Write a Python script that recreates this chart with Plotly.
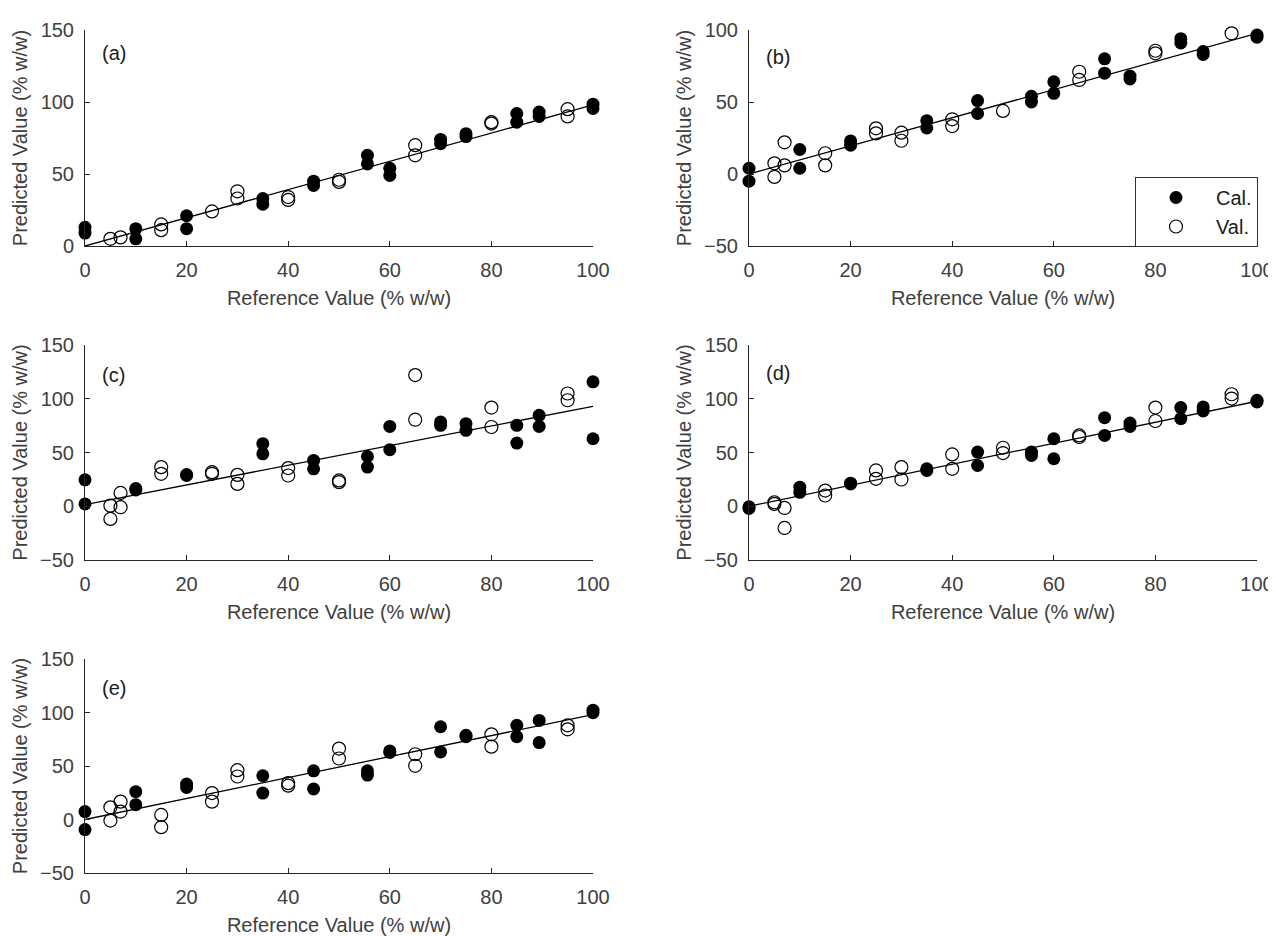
import plotly.graph_objects as go

# ---------------- data ----------------
cal_x = [0, 0, 10, 10, 20, 20, 35, 35, 45, 45, 55.6, 55.6, 60, 60, 70, 70, 75, 75, 85, 85, 89.4, 89.4, 100, 100]
val_x_a = [5, 7, 15, 15, 25, 30, 30, 40, 40, 50, 50, 65, 65, 80, 80, 95, 95]
val_x_b = [5, 5, 7, 7, 15, 15, 25, 25, 30, 30, 40, 40, 50, 65, 65, 80, 80, 95]
val_x = [5, 5, 7, 7, 15, 15, 25, 25, 30, 30, 40, 40, 50, 50, 65, 65, 80, 80, 95, 95]

a_cal_y = [13, 9, 12, 5, 21, 12, 33, 29, 45, 42, 63, 57, 54, 49, 74, 71, 78, 76, 92, 86, 93, 90, 98.5, 95.5]
a_val_y = [5, 6, 15, 11, 24, 38, 33, 34, 32, 46, 44.5, 70, 63, 86, 85, 95, 90]

b_cal_y = [4, -5, 17, 4, 23, 20, 37, 32, 51, 42, 54, 50, 64, 56, 80, 70, 68, 66, 94, 91, 85, 83, 96.5, 95]
b_val_y = [7.4, -2, 22, 6, 14.4, 6, 31.7, 28.2, 28.7, 23.1, 38, 33.3, 43.8, 71, 65.3, 85.6, 83.8, 97.7]

c_cal_y = [24.6, 2.2, 15.2, 16.5, 29.5, 28.6, 58.2, 48.8, 42.6, 34.8, 46.3, 36.4, 74.3, 52.6, 78.4, 75.3, 76.8, 70.6, 75.3, 58.8, 84.6, 74.3, 115.7, 62.8]
c_val_y = [0.6, -11.8, 12.4, -0.9, 36.4, 30.2, 31.7, 30.2, 29.2, 20.8, 35.5, 28.6, 24, 22.4, 122, 80.5, 91.8, 73.7, 104.9, 98.6]

d_cal_y = [-0.5, -2, 17.7, 13, 21.5, 20.8, 34.8, 33.3, 50.4, 37.9, 50.4, 47.3, 62.8, 44.2, 82.4, 65.9, 77.4, 74.3, 91.8, 81.5, 92.4, 88.6, 98.6, 97]
d_val_y = [3.7, 2.2, -1.6, -20.2, 14.6, 10, 33.3, 25.5, 36.4, 24.9, 48.2, 34.8, 54.4, 49.5, 65.9, 64.4, 91.8, 79.3, 104.2, 100.2]

e_cal_y = [7.4, -9.4, 26, 13.9, 33.1, 30, 40.9, 24.7, 45.5, 28.5, 45.5, 41.5, 64.1, 62.6, 86.7, 63.2, 78.7, 77.4, 88, 77.4, 92.6, 71.9, 102.2, 99.8]
e_val_y = [11.4, -1, 16.7, 7.4, 4.3, -7.2, 24.7, 16.7, 46.1, 40.2, 34, 31.6, 66.3, 57, 61, 50.2, 79.6, 68.1, 88, 84.3]

fit_x = [0, 100]
a_fit_y = [0, 98]
b_fit_y = [0, 97.7]
c_fit_y = [1.5, 93]
d_fit_y = [0, 97.7]
e_fit_y = [0, 98]

panel_labels = ["(a)", "(b)", "(c)", "(d)", "(e)"]
x_ticks = [0, 20, 40, 60, 80, 100]
y_ranges = [[0, 150], [-50, 100], [-50, 150], [-50, 150], [-50, 150]]
y_ticks = [[0, 50, 100, 150], [-50, 0, 50, 100], [-50, 0, 50, 100, 150],
           [-50, 0, 50, 100, 150], [-50, 0, 50, 100, 150]]
label_y = [134, 81, 122, 124, 123]

panels = [
    (cal_x, a_cal_y, val_x_a, a_val_y, a_fit_y),
    (cal_x, b_cal_y, val_x_b, b_val_y, b_fit_y),
    (cal_x, c_cal_y, val_x, c_val_y, c_fit_y),
    (cal_x, d_cal_y, val_x, d_val_y, d_fit_y),
    (cal_x, e_cal_y, val_x, e_val_y, e_fit_y),
]

# ---------------- layout geometry ----------------
OFF = 8                      # page body margin
W, H = 1276, 928
def px_x(X):
    return (X - OFF) / W
def px_y(Y):
    return 1 - (Y - OFF) / H

xdoms = [[px_x(85), px_x(593)], [px_x(749), px_x(1257)]]
ydoms_px = [(30, 246), (30, 246), (345, 560), (345, 560), (659, 873)]
FONT = "Liberation Sans, Arial, sans-serif"
TXT = "#404040"

fig = go.Figure()
layout = dict(
    width=W, height=H,
    autosize=False,
    margin=dict(l=0, r=0, t=0, b=0, pad=0, autoexpand=False),
    paper_bgcolor="white", plot_bgcolor="white",
    font=dict(family=FONT, size=20, color=TXT),
    showlegend=True,
    legend=dict(x=px_x(1258), xanchor="right", y=px_y(247), yanchor="bottom",
                bordercolor="#303030", borderwidth=1, bgcolor="white",
                font=dict(size=20, color="#202020"), itemwidth=70,
                tracegroupgap=0),
)
annotations = []

for i, (cx, cy, vx, vy, fy) in enumerate(panels):
    n = i + 1
    xa = "x" if n == 1 else f"x{n}"
    ya = "y" if n == 1 else f"y{n}"
    col = i % 2
    top, bot = ydoms_px[i]
    axis_common = dict(showline=True, linecolor="#262626", linewidth=1,
                       ticks="inside", ticklen=5, tickcolor="#262626",
                       showgrid=False, zeroline=False, mirror=False,
                       automargin=False, ticklabelstandoff=6,
                       tickfont=dict(size=20, color=TXT))
    layout["xaxis" if n == 1 else f"xaxis{n}"] = dict(
        domain=xdoms[col], anchor=ya, range=[0, 100], tickvals=x_ticks,
        title=dict(text="Reference Value (% w/w)", standoff=10,
                   font=dict(size=20, color=TXT)),
        **axis_common)
    layout["yaxis" if n == 1 else f"yaxis{n}"] = dict(
        domain=[px_y(bot), px_y(top)], anchor=xa, range=y_ranges[i],
        tickvals=y_ticks[i],
        title=dict(text="Predicted Value (% w/w)", standoff=7,
                   font=dict(size=20, color=TXT)),
        **axis_common)

    fig.add_trace(go.Scatter(x=fit_x, y=fy, mode="lines", xaxis=xa, yaxis=ya,
                             line=dict(color="black", width=1.3),
                             showlegend=False, hoverinfo="skip", cliponaxis=True))
    fig.add_trace(go.Scatter(x=cx, y=cy, mode="markers", xaxis=xa, yaxis=ya,
                             name="Cal.", showlegend=(n == 2),
                             marker=dict(symbol="circle", size=13, color="black",
                                         line=dict(width=0)),
                             cliponaxis=False))
    fig.add_trace(go.Scatter(x=vx, y=vy, mode="markers", xaxis=xa, yaxis=ya,
                             name="Val.", showlegend=(n == 2),
                             marker=dict(symbol="circle-open", size=13, color="black",
                                         line=dict(width=1.2)),
                             cliponaxis=False))
    annotations.append(dict(text=panel_labels[i], x=3, y=label_y[i], xref=xa, yref=ya,
                            xanchor="left", yanchor="middle", showarrow=False,
                            font=dict(size=20, color="#202020")))

layout["annotations"] = annotations
fig.update_layout(**layout)
fig.write_html("out.html")
